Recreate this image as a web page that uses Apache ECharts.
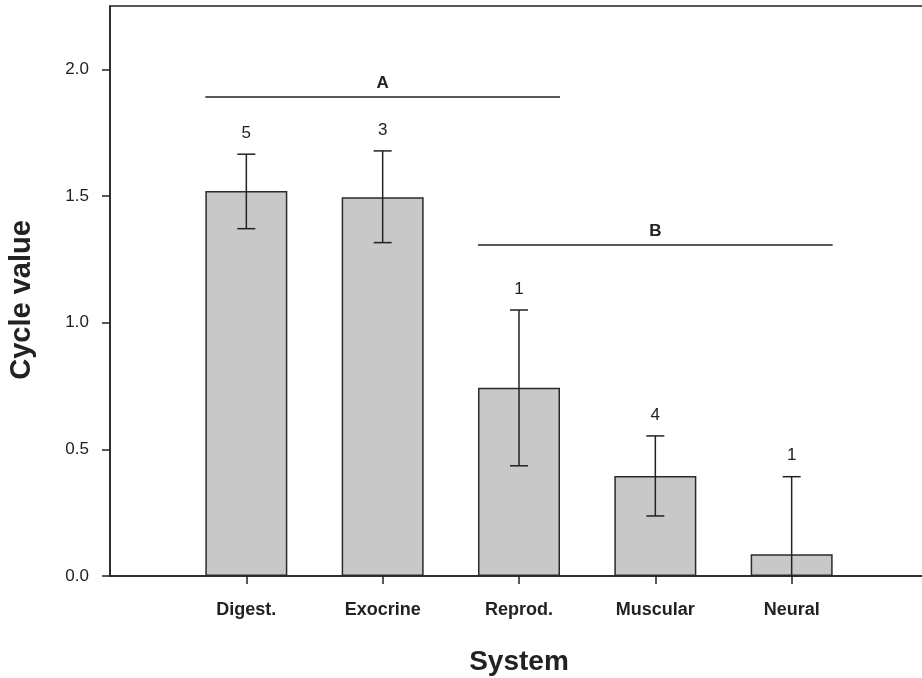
<!DOCTYPE html>
<html>
<head>
<meta charset="utf-8">
<script src="https://cdn.jsdelivr.net/npm/echarts@6/dist/echarts.min.js"></script>
<style>
html,body{margin:0;padding:0;background:#fff;}
#chart{width:922px;height:678px;}
</style>
</head>
<body>
<div id="chart"></div>
<script>
// ---- data ----
var categories = ['', 'Digest.', 'Exocrine', 'Reprod.', 'Muscular', 'Neural', ''];
var means      = ['-', 1.520, 1.495, 0.743, 0.395, 0.086, '-'];
var errLow     = [1.371, 1.316, 0.435, 0.237, -0.220];
var errHigh    = [1.665, 1.678, 1.050, 0.553, 0.392];
var counts     = ['5', '3', '1', '4', '1'];
var yTicks     = [0, 0.5, 1.0, 1.5, 2.0];
var sigLabels  = ['A', 'B'];
var sigStart   = [1, 3];
var sigEnd     = [3, 5];
var sigLevel   = [1.891, 1.307];

var INK = '#222222';
var FONT = '"Liberation Sans", Arial, Helvetica, sans-serif';
var BAR_W = 82;

var errData = [];
for (var i = 0; i < errLow.length; i++) errData.push([i + 1, errLow[i], errHigh[i], counts[i]]);
var sigData = [];
for (var j = 0; j < sigLabels.length; j++) sigData.push([sigStart[j], sigEnd[j], sigLevel[j], sigLabels[j]]);

var chart = echarts.init(document.getElementById('chart'), null, {renderer: 'canvas'});
chart.setOption({
  backgroundColor: '#ffffff',
  animation: false,
  grid: {
    left: 110, top: 6, width: 818, height: 570,
    containLabel: false, outerBoundsMode: 'none',
    show: true, borderColor: INK, borderWidth: 1.5, backgroundColor: 'transparent'
  },
  xAxis: {
    type: 'category',
    data: categories,
    boundaryGap: false,
    name: 'System',
    nameLocation: 'middle',
    nameGap: 72,
    nameTextStyle: {fontFamily: FONT, fontWeight: 'bold', fontSize: 28, color: INK},
    axisLine: {show: true, lineStyle: {color: INK, width: 1.5}},
    axisTick: {show: true, inside: false, length: 8, lineStyle: {color: INK, width: 1.5},
      interval: function (idx, val) { return val !== ''; }},
    axisLabel: {interval: 0, margin: 25, fontFamily: FONT, fontWeight: 'bold', fontSize: 18, color: INK},
    splitLine: {show: false}
  },
  yAxis: {
    type: 'value',
    min: 0, max: 2.25, interval: 0.5,
    name: 'Cycle value',
    nameLocation: 'middle',
    nameRotate: 90,
    nameGap: 74,
    nameTextStyle: {fontFamily: FONT, fontWeight: 'bold', fontSize: 29, color: INK, padding: [0, 18, 0, 0]},
    axisLine: {show: true, lineStyle: {color: INK, width: 1.5}},
    axisTick: {show: true, inside: false, length: 8, lineStyle: {color: INK, width: 1.5}, customValues: yTicks},
    axisLabel: {margin: 21, fontFamily: FONT, fontSize: 17, color: INK, customValues: yTicks,
      formatter: function (v) { return Number(v).toFixed(1); }},
    splitLine: {show: false}
  },
  series: [
    {
      type: 'bar',
      data: means,
      barWidth: BAR_W,
      itemStyle: {color: '#c8c8c9', borderColor: '#2a2a2a', borderWidth: 1.5},
      z: 2
    },
    {
      type: 'custom',
      data: errData,
      z: 5,
      renderItem: function (params, api) {
        var x = api.value(0);
        var lo = api.value(1), hi = api.value(2);
        var pHi = api.coord([x, hi]);
        var pLo = api.coord([x, lo]);
        var cs = params.coordSys;
        var bottom = cs.y + cs.height;
        var clipped = pLo[1] > bottom;
        var yLo = clipped ? bottom : pLo[1];
        var half = 9;
        var style = {stroke: INK, lineWidth: 1.5};
        var children = [
          {type: 'line', shape: {x1: pHi[0], y1: pHi[1], x2: pHi[0], y2: yLo}, style: style},
          {type: 'line', shape: {x1: pHi[0] - half, y1: pHi[1], x2: pHi[0] + half, y2: pHi[1]}, style: style},
          {type: 'text', x: pHi[0], y: pHi[1] - 21,
            style: {text: api.value(3) + '', fill: INK, font: '17px ' + FONT, align: 'center', verticalAlign: 'middle'}}
        ];
        if (!clipped) {
          children.push({type: 'line', shape: {x1: pLo[0] - half, y1: pLo[1], x2: pLo[0] + half, y2: pLo[1]}, style: style});
        }
        return {type: 'group', children: children};
      }
    },
    {
      type: 'custom',
      data: sigData,
      z: 5,
      renderItem: function (params, api) {
        var a = api.coord([api.value(0), api.value(2)]);
        var b = api.coord([api.value(1), api.value(2)]);
        var x1 = a[0] - BAR_W / 2, x2 = b[0] + BAR_W / 2;
        return {type: 'group', children: [
          {type: 'line', shape: {x1: x1, y1: a[1], x2: x2, y2: a[1]}, style: {stroke: INK, lineWidth: 1.5}},
          {type: 'text', x: (x1 + x2) / 2, y: a[1] - 14,
            style: {text: api.value(3) + '', fill: INK, font: 'bold 17px ' + FONT, align: 'center', verticalAlign: 'middle'}}
        ]};
      }
    }
  ]
});
</script>
</body>
</html>
